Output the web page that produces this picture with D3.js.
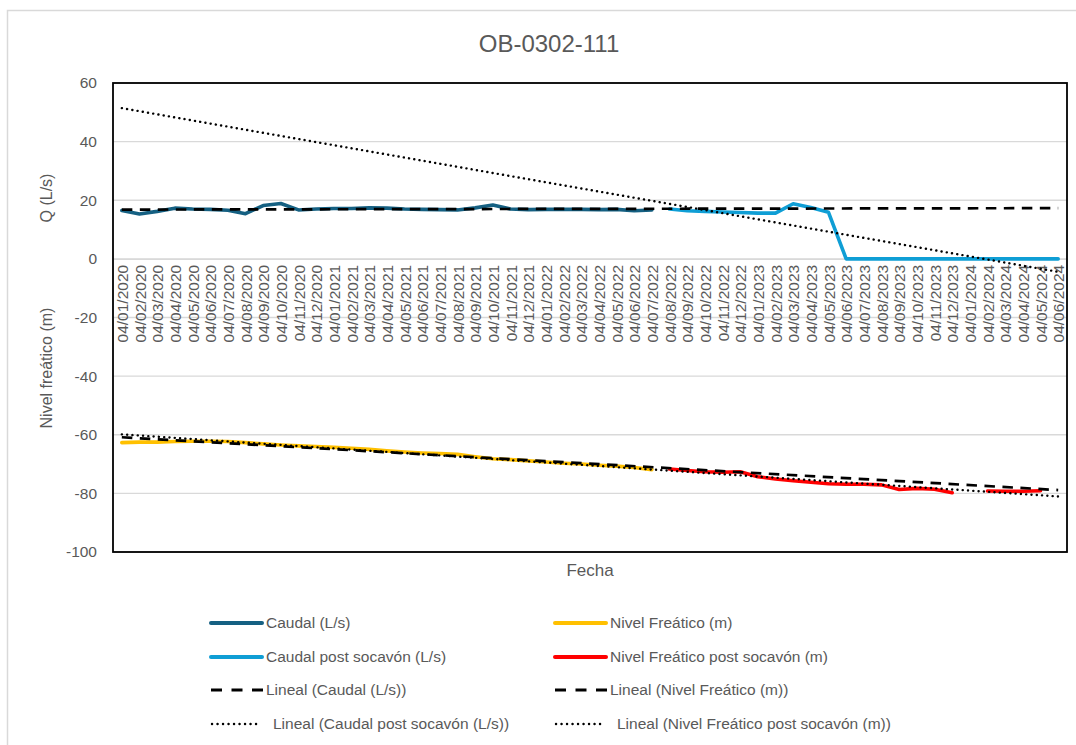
<!DOCTYPE html>
<html>
<head>
<meta charset="utf-8">
<script src="https://cdn.jsdelivr.net/npm/d3@7"></script>
<style>
  html, body { margin: 0; padding: 0; background: #ffffff; }
  svg { display: block; font-family: "Liberation Sans", Arial, sans-serif; }
</style>
</head>
<body>
<svg id="chart" width="1076" height="745"></svg>
<script>
const title = "OB-0302-111";

const categories = [
  "04/01/2020","04/02/2020","04/03/2020","04/04/2020","04/05/2020","04/06/2020",
  "04/07/2020","04/08/2020","04/09/2020","04/10/2020","04/11/2020","04/12/2020",
  "04/01/2021","04/02/2021","04/03/2021","04/04/2021","04/05/2021","04/06/2021",
  "04/07/2021","04/08/2021","04/09/2021","04/10/2021","04/11/2021","04/12/2021",
  "04/01/2022","04/02/2022","04/03/2022","04/04/2022","04/05/2022","04/06/2022",
  "04/07/2022","04/08/2022","04/09/2022","04/10/2022","04/11/2022","04/12/2022",
  "04/01/2023","04/02/2023","04/03/2023","04/04/2023","04/05/2023","04/06/2023",
  "04/07/2023","04/08/2023","04/09/2023","04/10/2023","04/11/2023","04/12/2023",
  "04/01/2024","04/02/2024","04/03/2024","04/04/2024","04/05/2024","04/06/2024"
];

const caudal = [
  16.5, 15.3, 16.2, 17.3, 17.0, 16.9, 16.6, 15.4, 18.2, 18.9,
  16.7, 17.0, 17.2, 17.2, 17.4, 17.3, 17.0, 16.9, 16.8, 16.7,
  17.4, 18.4, 17.0, 16.8, 16.9, 16.9, 16.9, 16.8, 16.9, 16.4, 16.7,
  null, null, null, null, null, null, null, null, null, null, null, null,
  null, null, null, null, null, null, null, null, null, null, null
];

const caudalPost = [
  null, null, null, null, null, null, null, null, null, null,
  null, null, null, null, null, null, null, null, null, null,
  null, null, null, null, null, null, null, null, null, null, null,
  17.0, 16.4, 16.2, 16.0, 15.8, 15.6, 15.6, 18.8, 17.5, 15.9,
  0, 0, 0, 0, 0, 0, 0, 0, 0, 0, 0, 0, 0
];

const nivel = [
  -62.7, -62.5, -62.5, -62.3, -62.2, -62.2, -62.3, -62.7, -63.1, -63.5,
  -63.8, -64.0, -64.3, -64.6, -65.0, -65.5, -65.9, -66.2, -66.4, -66.7,
  -67.5, -68.2, -68.5, -68.9, -69.3, -69.7, -70.0, -70.4, -70.7, -71.2, -71.9,
  null, null, null, null, null, null, null, null, null, null, null, null,
  null, null, null, null, null, null, null, null, null, null, null
];

const nivelPost = [
  null, null, null, null, null, null, null, null, null, null,
  null, null, null, null, null, null, null, null, null, null,
  null, null, null, null, null, null, null, null, null, null, null,
  -71.7, -72.2, -72.6, -72.8, -72.6, -74.3, -75.1, -75.7, -76.2, -76.7,
  -76.9, -76.9, -77.1, -78.7, -78.3, -78.6, -79.8, null, -79.2, -79.3,
  -79.3, -79.1, null
];

const yTicks = [60, 40, 20, 0, -20, -40, -60, -80, -100];
const yTitleQ = "Q (L/s)";
const yTitleNivel = "Nivel freático (m)";
const xTitle = "Fecha";

const legendLabels = [
  "Caudal (L/s)", "Nivel Freático (m)",
  "Caudal post socavón (L/s)", "Nivel Freático post socavón (m)",
  "Lineal (Caudal (L/s))", "Lineal (Nivel Freático (m))",
  "Lineal (Caudal post socavón (L/s))", "Lineal (Nivel Freático post socavón (m))"
];

// ---------- layout ----------
const svg = d3.select("#chart");
const W = 1076, H = 745;
const plot = { left: 113, right: 1067, top: 83, bottom: 552 };
const textColor = "#595959";
const gridColor = "#d9d9d9";
const colors = {
  caudal: "#156082",
  caudalPost: "#0f9ed5",
  nivel: "#ffc000",
  nivelPost: "#ff0000"
};

svg.append("rect").attr("x", 0).attr("y", 0).attr("width", W).attr("height", H).attr("fill", "#fff");
// chart area frame
svg.append("rect")
  .attr("x", 7.5).attr("y", 10.5).attr("width", W + 20).attr("height", H + 20)
  .attr("fill", "none").attr("stroke", gridColor).attr("stroke-width", 1.5);

const x = d3.scalePoint().domain(categories).range([plot.left, plot.right]).padding(0.5);
const y = d3.scaleLinear().domain([-100, 60]).range([plot.bottom, plot.top]);

// gridlines
svg.append("g").selectAll("line").data(yTicks).join("line")
  .attr("x1", plot.left).attr("x2", plot.right)
  .attr("y1", d => y(d)).attr("y2", d => y(d))
  .attr("stroke", gridColor).attr("stroke-width", 1.3);

// y axis
const yAxis = svg.append("g")
  .attr("transform", `translate(${plot.left},0)`)
  .call(d3.axisLeft(y).tickValues(yTicks).tickSize(0).tickPadding(16).tickFormat(d => String(d)));
yAxis.select(".domain").remove();
yAxis.selectAll("text")
  .attr("fill", textColor).attr("font-size", "15.5px")
  .attr("font-family", "'Liberation Sans', Arial, sans-serif");

// x axis at y = 0
const xAxis = svg.append("g")
  .attr("transform", `translate(0,${y(0)})`)
  .call(d3.axisBottom(x).tickSize(0).tickSizeOuter(0));
xAxis.select(".domain").attr("stroke", gridColor).attr("stroke-width", 1.3);
xAxis.selectAll("text")
  .attr("transform", "rotate(-90)")
  .attr("x", -6).attr("y", 0).attr("dy", "0.36em")
  .attr("text-anchor", "end")
  .attr("fill", textColor).attr("font-size", "15.5px")
  .attr("font-family", "'Liberation Sans', Arial, sans-serif");

// ---------- series ----------
const lineGen = d3.line()
  .defined(d => d[1] !== null)
  .x(d => x(categories[d[0]]))
  .y(d => y(d[1]));

function pairs(vals) { return vals.map((v, i) => [i, v]); }

function drawSeries(vals, color) {
  svg.append("path")
    .datum(pairs(vals))
    .attr("d", lineGen)
    .attr("fill", "none")
    .attr("stroke", color)
    .attr("stroke-width", 3.6)
    .attr("stroke-linejoin", "round")
    .attr("stroke-linecap", "round");
}

drawSeries(caudal, colors.caudal);
drawSeries(caudalPost, colors.caudalPost);
drawSeries(nivel, colors.nivel);
drawSeries(nivelPost, colors.nivelPost);

// linear trendlines (least squares over the series' own points)
function linearFit(vals) {
  const pts = pairs(vals).filter(p => p[1] !== null);
  const mx = d3.mean(pts, p => p[0]);
  const my = d3.mean(pts, p => p[1]);
  let sxy = 0, sxx = 0;
  pts.forEach(p => { sxy += (p[0] - mx) * (p[1] - my); sxx += (p[0] - mx) * (p[0] - mx); });
  const m = sxy / sxx;
  const b = my - m * mx;
  const last = categories.length - 1;
  return [[0, b], [last, b + m * last]];
}

function drawTrend(vals, style) {
  const p = svg.append("path")
    .datum(linearFit(vals))
    .attr("d", lineGen)
    .attr("fill", "none")
    .attr("stroke", "#000");
  if (style === "dash") {
    p.attr("stroke-width", 2.7).attr("stroke-dasharray", "10.5,7.5");
  } else {
    p.attr("stroke-width", 2.4).attr("stroke-dasharray", "0.1,5.2").attr("stroke-linecap", "round");
  }
}

drawTrend(caudal, "dash");
drawTrend(nivel, "dash");
drawTrend(caudalPost, "dot");
drawTrend(nivelPost, "dot");

// plot border
svg.append("rect")
  .attr("x", plot.left).attr("y", plot.top)
  .attr("width", plot.right - plot.left).attr("height", plot.bottom - plot.top)
  .attr("fill", "none").attr("stroke", "#000").attr("stroke-width", 1.8);

// ---------- titles ----------
svg.append("text")
  .attr("x", 549).attr("y", 52)
  .attr("text-anchor", "middle")
  .attr("fill", textColor).attr("font-size", "24px")
  .text(title);

svg.append("text")
  .attr("transform", `translate(52,${198}) rotate(-90)`)
  .attr("text-anchor", "middle")
  .attr("fill", textColor).attr("font-size", "16px")
  .text(yTitleQ);

svg.append("text")
  .attr("transform", `translate(52,${368}) rotate(-90)`)
  .attr("text-anchor", "middle")
  .attr("fill", textColor).attr("font-size", "16px")
  .text(yTitleNivel);

svg.append("text")
  .attr("x", 590).attr("y", 576)
  .attr("text-anchor", "middle")
  .attr("fill", textColor).attr("font-size", "17px")
  .text(xTitle);

// ---------- legend ----------
const legendItems = [
  { label: legendLabels[0], color: colors.caudal, kind: "solid" },
  { label: legendLabels[1], color: colors.nivel, kind: "solid" },
  { label: legendLabels[2], color: colors.caudalPost, kind: "solid" },
  { label: legendLabels[3], color: colors.nivelPost, kind: "solid" },
  { label: legendLabels[4], color: "#000", kind: "dash" },
  { label: legendLabels[5], color: "#000", kind: "dash" },
  { label: legendLabels[6], color: "#000", kind: "dot" },
  { label: legendLabels[7], color: "#000", kind: "dot" }
];
const colX = [210, 554];
const rowY = [623, 657, 690, 724];

legendItems.forEach((it, i) => {
  const cx = colX[i % 2];
  const cy = rowY[Math.floor(i / 2)];
  const g = svg.append("g");
  const ln = g.append("line").attr("y1", cy).attr("y2", cy).attr("stroke", it.color);
  let tx = cx + 56;
  if (it.kind === "solid") {
    ln.attr("x1", cx + 1).attr("x2", cx + 52).attr("stroke-width", 4).attr("stroke-linecap", "round");
  } else if (it.kind === "dash") {
    ln.attr("x1", cx + 1).attr("x2", cx + 53).attr("stroke-width", 3).attr("stroke-dasharray", "11,9.5");
  } else {
    ln.attr("x1", cx + 2).attr("x2", cx + 47).attr("stroke-width", 2.4)
      .attr("stroke-dasharray", "0.1,5.4").attr("stroke-linecap", "round");
    tx = cx + 63;
  }
  g.append("text")
    .attr("x", tx).attr("y", cy).attr("dy", "0.35em")
    .attr("fill", textColor).attr("font-size", "15.5px")
    .text(it.label);
});
</script>
</body>
</html>
